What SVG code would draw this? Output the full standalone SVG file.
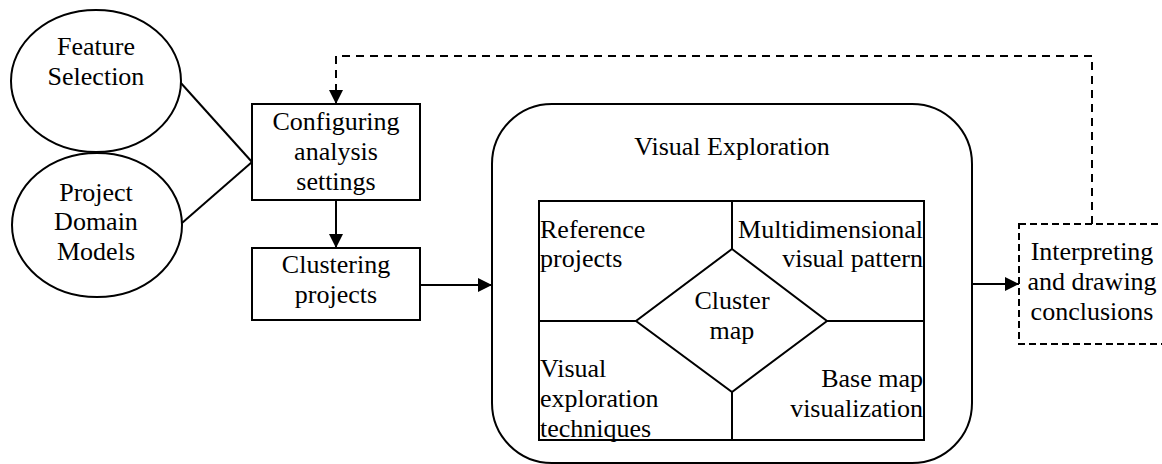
<svg xmlns="http://www.w3.org/2000/svg" width="1162" height="464" viewBox="0 0 1162 464">
  <style>
    .shape { fill: #ffffff; stroke: #000000; stroke-width: 2; }
    .line { fill: none; stroke: #000000; stroke-width: 2; }
    .dash { fill: none; stroke: #000000; stroke-width: 2; stroke-dasharray: 8 6; }
    .dashbox { fill: #ffffff; stroke: #000000; stroke-width: 2; stroke-dasharray: 7 4; }
    .t { font-family: 'Liberation Serif', 'Times New Roman', Times, serif !important; font-size: 26px; fill: #000000; }
    .c { text-anchor: middle; }
    .r { text-anchor: end; }
  </style>
  <defs>
    <marker id="arrow" markerUnits="userSpaceOnUse" markerWidth="15" markerHeight="15" refX="14" refY="7" orient="auto">
      <path d="M0,0 L14,7 L0,14 Z" fill="#000000" stroke="none"/>
    </marker>
  </defs>
  <rect width="1162" height="464" fill="#ffffff"/>

  <!-- connectors -->
  <g id="connectors">
    <line class="line" x1="180" y1="82" x2="252" y2="162"/>
    <line class="line" x1="182" y1="223" x2="252" y2="162"/>
    <line class="line" x1="336" y1="200" x2="336" y2="248" marker-end="url(#arrow)"/>
    <line class="line" x1="420" y1="285" x2="492" y2="285" marker-end="url(#arrow)"/>
    <line class="line" x1="972" y1="284" x2="1019" y2="284" marker-end="url(#arrow)"/>
    <path class="dash" d="M1092,224 V56 H336 V104" marker-end="url(#arrow)"/>
  </g>

  <g id="feature-selection">
    <ellipse class="shape" cx="96" cy="81" rx="85" ry="71"/>
    <text class="t c" font-family="Liberation Serif" x="96" y="55">Feature</text>
    <text class="t c" font-family="Liberation Serif" x="96" y="85">Selection</text>
  </g>

  <g id="project-domain-models">
    <ellipse class="shape" cx="97" cy="225" rx="85" ry="72"/>
    <text class="t c" font-family="Liberation Serif" x="96" y="201">Project</text>
    <text class="t c" font-family="Liberation Serif" x="96" y="230">Domain</text>
    <text class="t c" font-family="Liberation Serif" x="96" y="260">Models</text>
  </g>

  <g id="configuring">
    <rect class="shape" x="252" y="104" width="168" height="96"/>
    <text class="t c" font-family="Liberation Serif" x="336" y="130">Configuring</text>
    <text class="t c" font-family="Liberation Serif" x="336" y="160">analysis</text>
    <text class="t c" font-family="Liberation Serif" x="336" y="190">settings</text>
  </g>

  <g id="clustering">
    <rect class="shape" x="252" y="248" width="168" height="72"/>
    <text class="t c" font-family="Liberation Serif" x="336" y="273">Clustering</text>
    <text class="t c" font-family="Liberation Serif" x="336" y="303">projects</text>
  </g>

  <g id="visual-exploration">
    <rect class="shape" x="492" y="104" width="480" height="359" rx="60" ry="60"/>
    <text class="t c" font-family="Liberation Serif" x="732" y="155">Visual Exploration</text>
    <rect class="shape" x="539" y="201" width="385" height="239"/>
    <line class="line" x1="732" y1="201" x2="732" y2="249"/>
    <line class="line" x1="732" y1="392" x2="732" y2="440"/>
    <line class="line" x1="539" y1="321" x2="636" y2="321"/>
    <line class="line" x1="827" y1="321" x2="924" y2="321"/>
    <polygon class="shape" points="732,249 827,321 732,392 636,321"/>
    <text class="t c" font-family="Liberation Serif" x="732" y="309">Cluster</text>
    <text class="t c" font-family="Liberation Serif" x="732" y="339">map</text>
    <text class="t" font-family="Liberation Serif" x="540" y="238">Reference</text>
    <text class="t" font-family="Liberation Serif" x="540" y="267">projects</text>
    <text class="t r" font-family="Liberation Serif" x="923" y="238">Multidimensional</text>
    <text class="t r" font-family="Liberation Serif" x="923" y="267">visual pattern</text>
    <text class="t" font-family="Liberation Serif" x="540" y="377">Visual</text>
    <text class="t" font-family="Liberation Serif" x="540" y="407">exploration</text>
    <text class="t" font-family="Liberation Serif" x="540" y="437">techniques</text>
    <text class="t r" font-family="Liberation Serif" x="923" y="387">Base map</text>
    <text class="t r" font-family="Liberation Serif" x="923" y="417">visualization</text>
  </g>

  <g id="interpreting">
    <rect class="dashbox" x="1019" y="224" width="152" height="120"/>
    <text class="t c" font-family="Liberation Serif" x="1092" y="260">Interpreting</text>
    <text class="t c" font-family="Liberation Serif" x="1092" y="290">and drawing</text>
    <text class="t c" font-family="Liberation Serif" x="1092" y="320">conclusions</text>
  </g>
</svg>
